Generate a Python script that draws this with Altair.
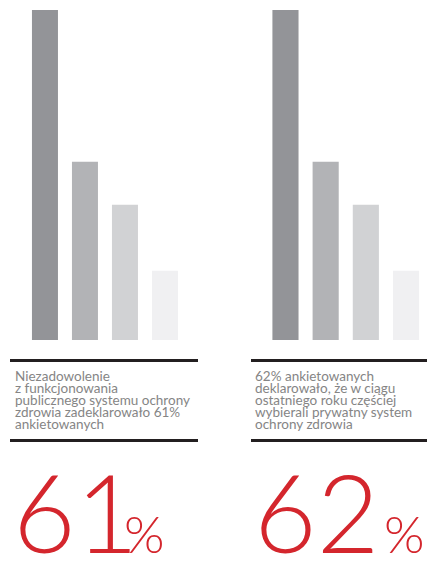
import altair as alt
import pandas as pd

categories = ["1", "2", "3", "4"]
values_left = [100, 54, 41, 21]
values_right = [100, 54, 41, 21]
bar_colors = ["#939498", "#b2b3b6", "#d1d2d4", "#f0f0f2"]
descriptions = [
    "Niezadowolenie\nz funkcjonowania\npublicznego systemu ochrony\nzdrowia zadeklarowało 61%\nankietowanych",
    "62% ankietowanych\ndeklarowało, że w ciągu\nostatniego roku częściej\nwybierali prywatny system\nochrony zdrowia",
]
big_numbers = ["61", "62"]

RED = "#d4262d"
FONT = "Lato"


def panel(values, desc, num, width, align, rule_x, text_x, num_x, pct_x):
    df = pd.DataFrame({"cat": categories, "val": values})
    bars = alt.Chart(df).mark_bar().encode(
        x=alt.X("cat:N", axis=None,
                scale=alt.Scale(paddingInner=0.35, paddingOuter=0.85, align=align)),
        y=alt.Y("val:Q", axis=None, scale=alt.Scale(domain=[0, 100], range=[340, 10])),
        color=alt.Color("cat:N", legend=None,
                        scale=alt.Scale(domain=categories, range=bar_colors)),
    )
    one = pd.DataFrame({"d": [desc], "n": [num], "p": ["%"]})
    base = alt.Chart(one)
    rule_top = base.mark_rule(color="#231f20", strokeWidth=3).encode(
        x=alt.value(rule_x[0]), x2=alt.value(rule_x[1]), y=alt.value(360.5))
    rule_bot = base.mark_rule(color="#231f20", strokeWidth=3).encode(
        x=alt.value(rule_x[0]), x2=alt.value(rule_x[1]), y=alt.value(440.5))
    text = base.mark_text(align="left", baseline="alphabetic", font=FONT, fontSize=13.5,
                          lineHeight=12, lineBreak="\n", color="#858585").encode(
        x=alt.value(text_x), y=alt.value(381), text="d:N")
    big = base.mark_text(align="left", baseline="alphabetic", font=FONT, fontSize=108,
                         fontWeight=300, color=RED).encode(
        x=alt.value(num_x), y=alt.value(553), text="n:N")
    pct = base.mark_text(align="left", baseline="alphabetic", font=FONT, fontSize=52,
                         fontWeight=300, color=RED).encode(
        x=alt.value(pct_x), y=alt.value(553), text="p:N")
    return alt.layer(bars, rule_top, rule_bot, text, big, pct).properties(
        width=width, height=574)


left = panel(values_left, descriptions[0], big_numbers[0], 214, 0.47,
             (10, 198), 15, 13, 124)
right = panel(values_right, descriptions[1], big_numbers[1], 215, 0.855,
              (37, 213), 41, 40, 170)

chart = alt.hconcat(left, right, spacing=0).properties(padding=0).configure_view(
    stroke=None).configure_concat(spacing=0)

chart.save("out.html", embed_options={"renderer": "svg", "actions": False})
